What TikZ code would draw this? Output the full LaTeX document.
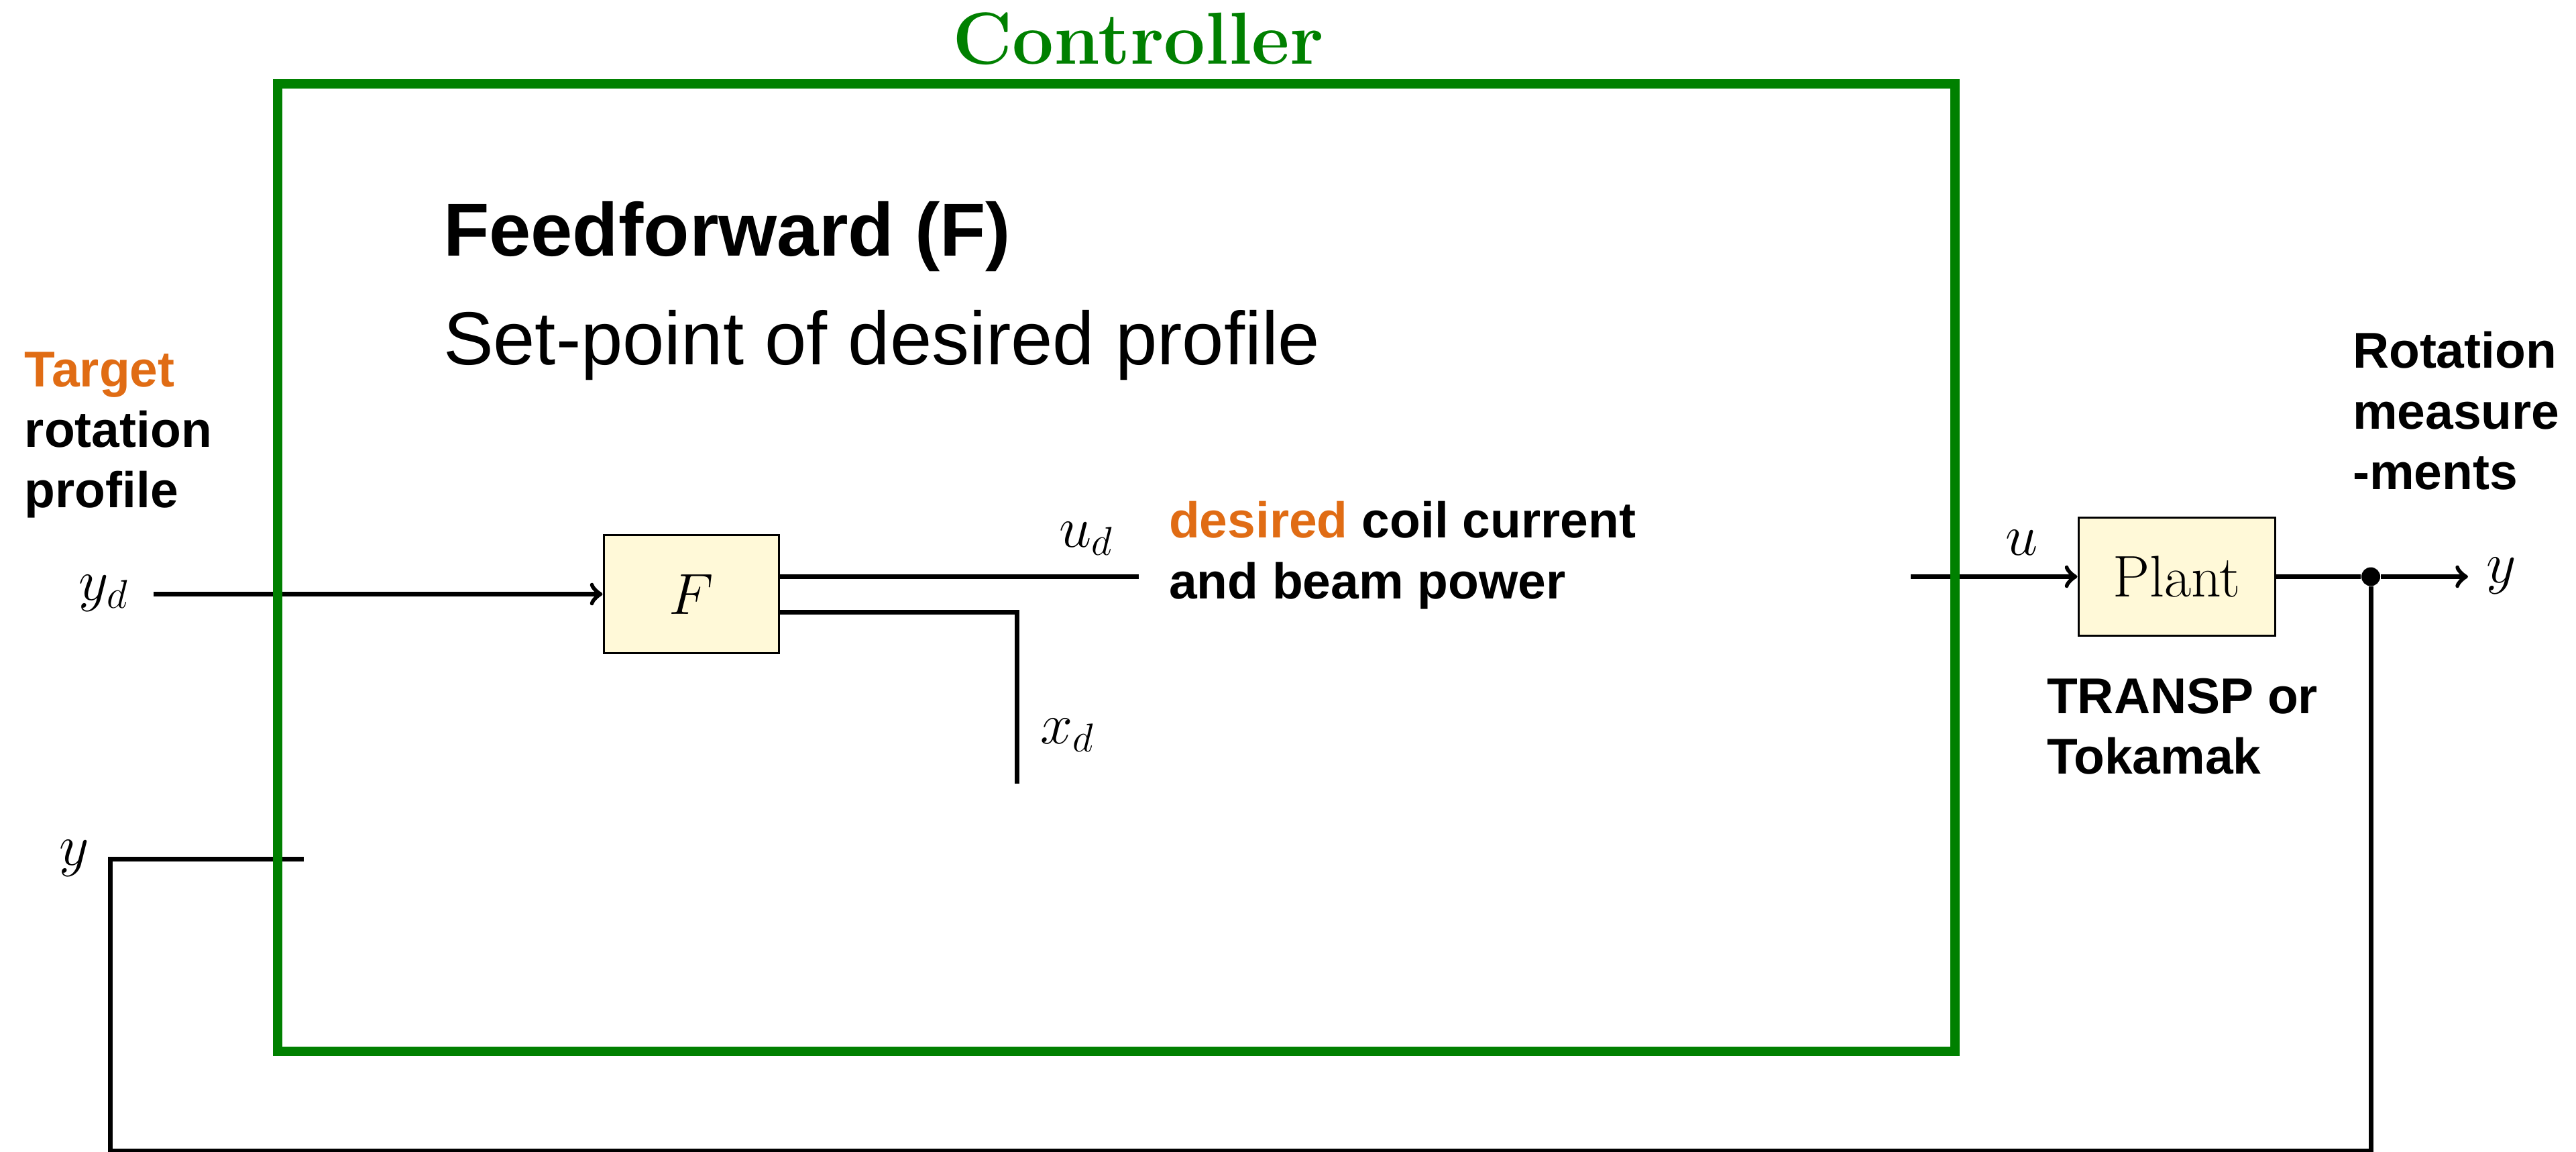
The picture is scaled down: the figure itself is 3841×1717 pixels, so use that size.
\documentclass[tikz,border=0pt]{standalone}
\usepackage{fontspec}
\setsansfont{Liberation Sans}
\definecolor{ctrlgreen}{RGB}{0,128,0}
\definecolor{accent}{RGB}{224,108,20}
\definecolor{boxfill}{RGB}{255,249,216}
\begin{document}
\begin{tikzpicture}[x=0.2pt,y=-0.2pt,
  wire/.style={line width=1.4pt,draw=black},
  blockbox/.style={draw=black,line width=0.6pt,fill=boxfill,inner sep=0pt,minimum height=35pt,font=\fontsize{17.5}{20}\selectfont},
  lab/.style={font=\fontsize{15}{18}\selectfont\sffamily\bfseries,anchor=base west,inner sep=0pt},
  bigtext/.style={font=\fontsize{22.4}{26}\selectfont\sffamily,anchor=base west,inner sep=0pt},
  mathlab/.style={font=\fontsize{17.5}{20}\selectfont,anchor=base,inner sep=0pt}]
\useasboundingbox (0,0) rectangle (3841,1717);

% blocks
\node[blockbox,minimum width=52.2pt] (F) at (1030.5,885.5) {$F$};
\node[blockbox,minimum width=58.6pt] (plant) at (3245.5,859.5) {Plant};
\node[circle,fill=black,inner sep=0pt,minimum size=5.6pt] (tap) at (3535,859.5) {};

% coordinates
\coordinate (ydstart) at (229,885.5);
\coordinate (udend) at (1698,860);
\coordinate (xdcorner) at (1516,913);
\coordinate (xdend) at (1516,1168);
\coordinate (ustart) at (2849,859.5);
\coordinate (yout) at (3680,859.5);
\coordinate (fbr) at (3535,1715);
\coordinate (fbl) at (164,1715);
\coordinate (fbt) at (164,1280);
\coordinate (fbend) at (453,1280);

% wires
\draw[wire,->] (ydstart) -- (F.west);
\draw[wire] (F.east |- udend) -- (udend);
\draw[wire] (F.east |- xdcorner) -- (xdcorner) -- (xdend);
\draw[wire,->] (ustart) -- (plant.west);
\draw[wire] (plant.east) -- (tap);
\draw[wire,->] (tap) -- (yout);
\draw[wire] (tap) -- (fbr) -- (fbl) -- (fbt) -- (fbend);

% controller frame
\node[draw=ctrlgreen,line width=2.8pt,inner sep=0pt,minimum width=500.2pt,minimum height=288.4pt] (ctrl) at (1664.5,846) {};
\node[font=\fontsize{22}{26}\selectfont\bfseries,text=ctrlgreen,anchor=base,inner sep=0pt] (ctrltitle) at (1697,96) {Controller};

% big texts
\node[bigtext,font=\fontsize{22.4}{26}\selectfont\sffamily\bfseries] (ff) at (660,382) {Feedforward (F)};
\node[bigtext] (sp) at (660,544) {Set-point of desired profile};

% labels
\node[lab,text=accent] (t1) at (36,577) {Target};
\node[lab] (t2) at (36,667) {rotation};
\node[lab] (t3) at (36,757) {profile};

\node[lab] (d1) at (1742,802) {\textcolor{accent}{desired} coil current};
\node[lab] (d2) at (1742,893) {and beam power};

\node[lab] (r1) at (3507,549) {Rotation};
\node[lab] (r2) at (3507,640) {measure};
\node[lab] (r3) at (3507,730) {-ments};

\node[lab] (k1) at (3051,1063) {TRANSP or};
\node[lab] (k2) at (3051,1153) {Tokamak};

% math labels
\node[mathlab] (ydlab) at (155,894) {$y_d$};
\node[mathlab] (udlab) at (1620,815) {$u_d$};
\node[mathlab] (xdlab) at (1592,1108) {$x_d$};
\node[mathlab] (ulab) at (3015,828) {$u$};
\node[mathlab] (ylab) at (3730,869) {$y$};
\node[mathlab] (yfb) at (111,1289) {$y$};
\end{tikzpicture}
\end{document}
